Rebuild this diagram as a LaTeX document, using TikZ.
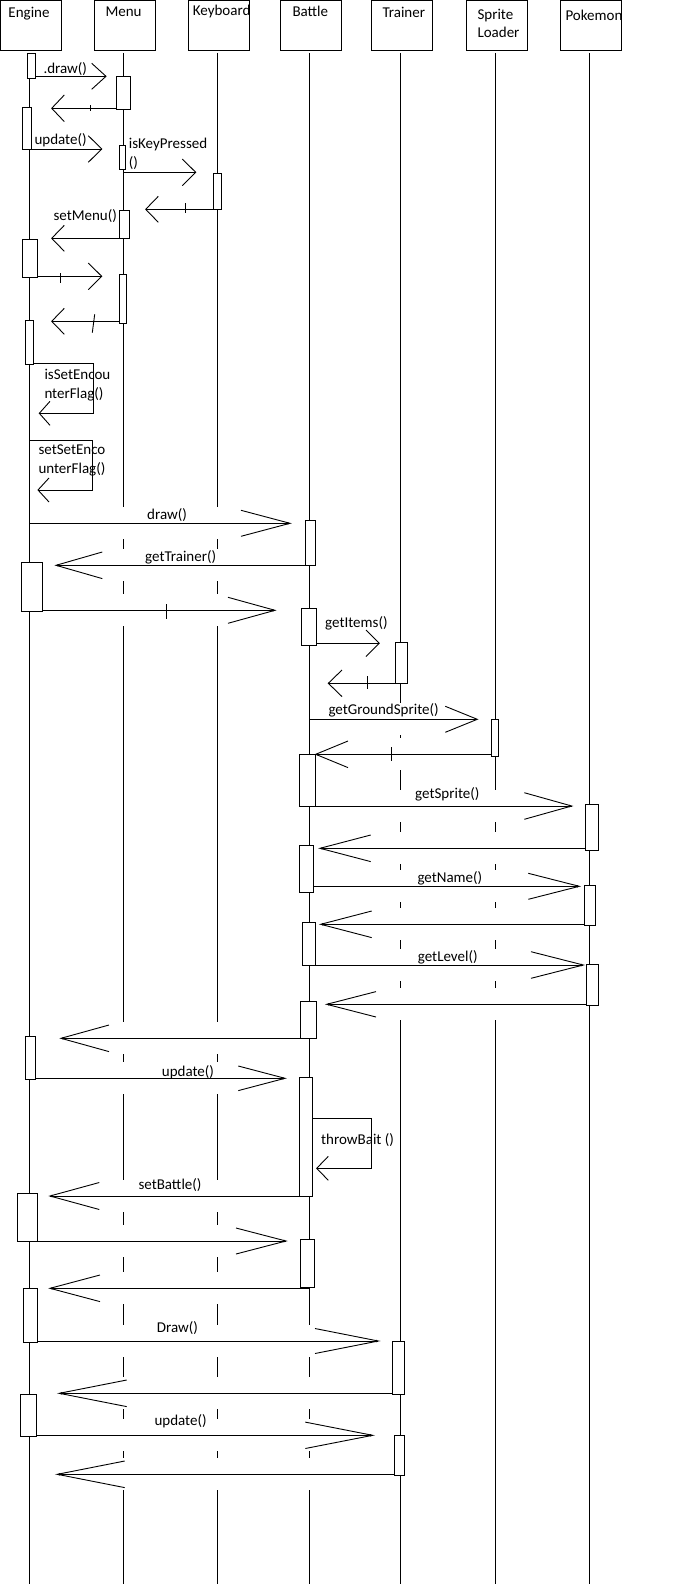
\documentclass[tikz,border=0pt]{standalone}
\usepackage{fontspec}
\setmainfont{Carlito}
\usetikzlibrary{fit}
\pgfdeclarelayer{lifelayer}
\pgfdeclarelayer{bandlayer}
\pgfsetlayers{lifelayer,bandlayer,main}
\tikzset{
  conn/.style={line width=0.9pt},
  life/.style={line width=0.9pt},
  act/.style={draw, fill=white, line width=0.9pt, inner sep=0pt},
  hdr/.style={draw, line width=0.9pt, inner sep=0pt},
  lbl/.style={anchor=base west, inner sep=0pt, font=\fontsize{15}{18}\selectfont},
}
% id, y, xstart, xtip, xheadbase, halfwidth, dot
\newcommand\msg[7]{%
  \coordinate (#1s) at (#3,#2);
  \coordinate (#1t) at (#4,#2);
  \pgfmathsetmacro\bandstart{#3+2*sign(#4-#3)}%
  \pgfmathsetmacro\dotx{#4-2*sign(#4-#3)}%
  \begin{pgfonlayer}{bandlayer}
    \fill[white] (\bandstart,{#2-16}) rectangle (#4,{#2+16});
  \end{pgfonlayer}
  \draw[conn] (#1s) -- (#1t);
  \draw[conn] (#5,{#2-#6}) -- (#1t) -- (#5,{#2+#6});
  \ifnum#7=1 \fill (\dotx,#2) circle (1.3);\fi
}
\begin{document}
\begin{tikzpicture}[x=1pt,y=-1pt]
\useasboundingbox (0,0) rectangle (700,1584);

% headers
\node[hdr, fit={(0.5,0.5) (61.7,50)}] (hEngine) {};
\node[hdr, fit={(94.3,0.5) (155.7,50)}] (hMenu) {};
\node[hdr, fit={(188.3,0.5) (249.7,50)}] (hKeyboard) {};
\node[hdr, fit={(280,0.5) (341.7,50)}] (hBattle) {};
\node[hdr, fit={(371.3,0.5) (432.7,50)}] (hTrainer) {};
\node[hdr, fit={(466.3,0.5) (527.7,50)}] (hSprite) {};
\node[hdr, fit={(560.3,0.5) (621.7,50)}] (hPokemon) {};
\node[lbl] (tEngine) at (8.3,17.5) {Engine};
\node[lbl] (tMenu) at (105.3,16.7) {Menu};
\node[lbl] (tKeyboard) at (192.7,15.7) {Keyboard};
\node[lbl] (tBattle) at (292.3,16.7) {Battle};
\node[lbl] (tTrainer) at (382.3,17.7) {Trainer};
\node[lbl] (tSprite) at (477.3,20) {Sprite};
\node[lbl] (tLoader) at (477.3,37.7) {Loader};
\node[lbl] (tPokemon) at (565.3,20.7) {Pokemon};

% lifelines
\coordinate (lE1) at (29.3,53); \coordinate (lE2) at (29.3,1584);
\coordinate (lM1) at (123.3,53); \coordinate (lM2) at (123.3,1584);
\coordinate (lK1) at (217.3,53); \coordinate (lK2) at (217.3,1584);
\coordinate (lB1) at (309.3,53); \coordinate (lB2) at (309.3,1584);
\coordinate (lT1) at (400.3,53); \coordinate (lT2) at (400.3,1584);
\coordinate (lS1) at (495.3,53); \coordinate (lS2) at (495.3,1584);
\coordinate (lP1) at (589.3,53); \coordinate (lP2) at (589.3,1584);
\begin{pgfonlayer}{lifelayer}
\draw[life] (lE1) -- (lE2);
\draw[life] (lM1) -- (lM2);
\draw[life] (lK1) -- (lK2);
\draw[life] (lB1) -- (lB2);
\draw[life] (lT1) -- (lT2);
\draw[life] (lS1) -- (lS2);
\draw[life] (lP1) -- (lP2);
\end{pgfonlayer}

% activation boxes
\node[act, fit={(27.3,53.3) (35.7,78.3)}] (E1) {};
\node[act, fit={(22.3,107.3) (31.7,149)}] (E2) {};
\node[act, fit={(22.3,239.3) (37.3,277.3)}] (E3) {};
\node[act, fit={(25.3,320.3) (33.7,364.3)}] (E4) {};
\node[act, fit={(21.3,562.3) (42.3,611)}] (E5) {};
\node[act, fit={(25.3,1036.7) (35.3,1079.3)}] (E6) {};
\node[act, fit={(17.3,1193.3) (37.3,1241)}] (E7) {};
\node[act, fit={(23.3,1288.3) (37.7,1342.3)}] (E8) {};
\node[act, fit={(20.3,1394.3) (36.7,1436.7)}] (E9) {};
\node[act, fit={(116.3,76.7) (130.3,109.3)}] (M1) {};
\node[act, fit={(119,145.3) (125,169.3)}] (M2) {};
\node[act, fit={(119.3,210.7) (129.3,238.3)}] (M3) {};
\node[act, fit={(119.3,274.3) (126.7,323.3)}] (M4) {};
\node[act, fit={(213.3,173.3) (221.3,209.3)}] (K1) {};
\node[act, fit={(305.7,520.7) (315.3,565)}] (B1) {};
\node[act, fit={(301.3,608.3) (316.7,645.3)}] (B2) {};
\node[act, fit={(299.3,754.3) (315.3,806)}] (B3) {};
\node[act, fit={(299.3,845.3) (313.7,892.3)}] (B4) {};
\node[act, fit={(302.3,922.3) (315.3,965.3)}] (B5) {};
\node[act, fit={(300.3,1001.5) (316.3,1038.3)}] (B6) {};
\node[act, fit={(299.3,1077.3) (312.3,1196)}] (B7) {};
\node[act, fit={(300.7,1239.3) (314.3,1287.3)}] (B8) {};
\node[act, fit={(395.3,642.3) (407.7,683.3)}] (T1) {};
\node[act, fit={(392.3,1341) (404.7,1394.3)}] (T2) {};
\node[act, fit={(394.7,1435.3) (404.7,1475.3)}] (T3) {};
\node[act, fit={(491.3,719.3) (498.3,756)}] (S1) {};
\node[act, fit={(585.7,804.3) (598.3,850.3)}] (P1) {};
\node[act, fit={(584.3,885.3) (595.3,925.3)}] (P2) {};
\node[act, fit={(586.3,964.3) (598.3,1005.3)}] (P3) {};

% messages
\msg{a1}{76.3}{35.7}{106}{91.7}{13}{0}
\msg{a2}{108.3}{116.3}{51.7}{64.3}{13.3}{0}
\msg{a3}{149}{31.7}{101.7}{88.3}{13.3}{0}
\msg{a4}{172.3}{123.3}{195.7}{182.3}{13.3}{0}
\msg{a5}{209.3}{213.3}{145.7}{158.3}{13}{0}
\msg{a6}{238.3}{119.3}{51.7}{64.3}{13}{0}
\msg{a7}{276.3}{37.3}{101.7}{88.3}{13.3}{0}
\msg{a8}{321.3}{119.3}{51.7}{64.3}{13}{0}
\msg{a9}{523.3}{29.3}{290}{241}{13}{1}
\msg{a10}{565.3}{305.7}{56}{102.3}{13.3}{1}
\msg{a11}{610.3}{42.3}{275}{228}{13}{1}
\msg{a12}{643.3}{316.7}{379.3}{366}{13.3}{0}
\msg{a13}{683.3}{395.3}{328.3}{342}{13.3}{0}
\msg{a14}{719.3}{309.3}{477.3}{445.3}{13}{0}
\msg{a15}{754.3}{491.3}{315.7}{348}{13.3}{1}
\msg{a16}{806}{315.3}{571.7}{524.3}{13.3}{1}
\msg{a17}{848.3}{585.7}{320}{370.7}{13.3}{1}
\msg{a18}{886.3}{313.7}{579.3}{528.3}{13}{1}
\msg{a19}{924.3}{584.3}{320.7}{371.7}{13.3}{1}
\msg{a20}{965}{315.3}{583.3}{531}{13.3}{1}
\msg{a21}{1004.3}{586.3}{326.7}{376}{12.7}{1}
\msg{a22}{1038.3}{300.3}{61}{109}{13.3}{1}
\msg{a23}{1078.3}{35.3}{285}{238.3}{12.3}{1}
\msg{a24}{1196}{299.3}{50}{99.3}{13.5}{1}
\msg{a25}{1241}{37.3}{286}{236}{13}{1}
\msg{a26}{1288.3}{309.3}{50}{100}{13.3}{1}
\msg{a27}{1341}{37.7}{378.3}{315}{12.5}{1}
\msg{a28}{1393.3}{392.3}{59.3}{126.7}{13.3}{1}
\msg{a29}{1435.3}{36.7}{372.7}{305.3}{13.2}{1}
\msg{a30}{1474.3}{394.7}{57.3}{124.7}{13.3}{1}

% ticks on some connectors
\draw[conn] (90.7,105.3) -- (90.7,111.3);
\draw[conn] (185.3,203.3) -- (185.3,213.3);
\draw[conn] (60.3,273.3) -- (60.3,282.7);
\draw[conn] (94.7,314.3) -- (92.3,332.7);
\draw[conn] (166.3,604.3) -- (166.3,619);
\draw[conn] (367.3,676) -- (367.3,689);
\draw[conn] (391,747.3) -- (391,760.7);

% self messages
\coordinate (s1s) at (33.7,363.3); \coordinate (s1t) at (39.3,413.3);
\draw[conn] (s1s) -- (93.3,363.3) -- (93.3,413.3) -- (s1t);
\draw[conn] (50,401.3) -- (s1t) -- (50,425.3);
\coordinate (s2s) at (29.3,440.7); \coordinate (s2t) at (38,490);
\draw[conn] (s2s) -- (92.3,440.7) -- (92.3,490) -- (s2t);
\draw[conn] (49,478) -- (s2t) -- (49,502);
\coordinate (s3s) at (312.3,1118.3); \coordinate (s3t) at (316.7,1168.3);
\draw[conn] (s3s) -- (371.3,1118.3) -- (371.3,1168.3) -- (s3t);
\draw[conn] (328.3,1156.3) -- (s3t) -- (328.3,1180.3);

% labels
\node[lbl] (m1) at (43.3,74) {.draw()};
\node[lbl] (m2) at (34.3,145) {update()};
\node[lbl] (m3) at (128.7,148.3) {isKeyPressed};
\node[lbl] (m3b) at (128.7,167.3) {()};
\node[lbl] (m4) at (53.3,220) {setMenu()};
\node[lbl] (m5) at (44.3,379.7) {isSetEncou};
\node[lbl] (m5b) at (44.3,398.3) {nterFlag()};
\node[lbl] (m6) at (38.3,454.7) {setSetEnco};
\node[lbl] (m6b) at (38.3,473) {unterFlag()};
\node[lbl] (m7) at (147,519.7) {draw()};
\node[lbl] (m8) at (145,561.7) {getTrainer()};
\node[lbl] (m9) at (325,627.3) {getItems()};
\node[lbl] (m10) at (328.3,714.7) {getGroundSprite()};
\node[lbl] (m11) at (415,798) {getSprite()};
\node[lbl] (m12) at (417.3,882) {getName()};
\node[lbl] (m13) at (417.7,961.7) {getLevel()};
\node[lbl] (m14) at (161.7,1076.7) {update()};
\node[lbl] (m15) at (321,1144.7) {throwBait ()};
\node[lbl] (m16) at (138.3,1189.7) {setBattle()};
\node[lbl] (m17) at (156.7,1332.7) {Draw()};
\node[lbl] (m18) at (154.3,1425.7) {update()};
\end{tikzpicture}
\end{document}
